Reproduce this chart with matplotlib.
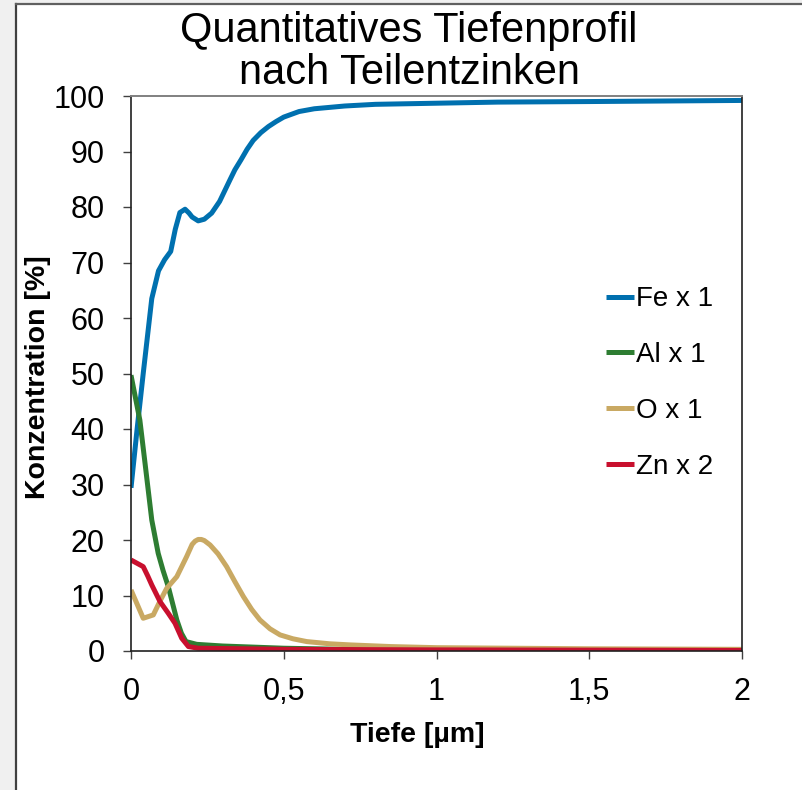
import matplotlib.pyplot as plt
from matplotlib.lines import Line2D
from matplotlib.patches import Rectangle

plt.rcParams['font.family'] = ['Liberation Sans', 'DejaVu Sans']

# --- Messwerte (Tiefe in µm, Konzentration in %) ---
fe_x = [0, 0.02, 0.04, 0.068, 0.09, 0.11, 0.13, 0.145, 0.16, 0.177, 0.19, 0.2, 0.22,
        0.24, 0.264, 0.29, 0.324, 0.34, 0.36, 0.38, 0.4, 0.425, 0.45, 0.475, 0.5,
        0.55, 0.6, 0.7, 0.8, 1.0, 1.2, 1.5, 2.0]
fe_y = [29.4, 40, 50, 63.5, 68.5, 70.5, 72, 76, 79, 79.6, 78.9, 78.2, 77.5,
        77.8, 78.9, 81, 84.9, 86.7, 88.5, 90.4, 92, 93.4, 94.5, 95.4, 96.2,
        97.2, 97.7, 98.2, 98.5, 98.7, 98.9, 99.0, 99.2]

al_x = [0, 0.015, 0.029, 0.046, 0.068, 0.089, 0.105, 0.122, 0.15, 0.165, 0.18,
        0.215, 0.3, 0.5, 0.7, 1.0, 1.5, 2.0]
al_y = [49.7, 45.5, 41.6, 33.8, 23.6, 17.6, 14.5, 11.6, 5.6, 3.2, 1.7,
        1.2, 0.9, 0.5, 0.3, 0.2, 0.1, 0.1]

o_x = [0, 0.04, 0.073, 0.095, 0.117, 0.15, 0.182, 0.2, 0.21, 0.22, 0.23, 0.24, 0.259,
       0.285, 0.313, 0.34, 0.368, 0.395, 0.422, 0.455, 0.488, 0.53, 0.575,
       0.65, 0.717, 0.85, 1.0, 1.5, 2.0]
o_y = [11, 5.9, 6.5, 9, 11.3, 13.4, 17, 19.2, 19.8, 20.1, 20.1, 19.9, 19.1,
       17.5, 15.2, 12.5, 9.8, 7.5, 5.6, 4.0, 2.9, 2.2, 1.7,
       1.3, 1.1, 0.8, 0.6, 0.4, 0.3]

zn_x = [0, 0.02, 0.04, 0.055, 0.068, 0.095, 0.122, 0.144, 0.166, 0.188, 0.22,
        0.5, 1.0, 2.0]
zn_y = [16.4, 15.8, 15.2, 13.5, 11.9, 8.9, 6.8, 5.0, 2.3, 0.8, 0.5,
        0.3, 0.2, 0.1]

serien = [
    ('Fe x 1', fe_x, fe_y, '#0070AF'),
    ('Al x 1', al_x, al_y, '#2E7D32'),
    ('O x 1', o_x, o_y, '#C9A963'),
    ('Zn x 2', zn_x, zn_y, '#C8102E'),
]

x_ticks = [0, 0.5, 1, 1.5, 2]
x_ticklabels = ['0', '0,5', '1', '1,5', '2']
y_ticks = list(range(0, 101, 10))

fig = plt.figure(figsize=(8.02, 7.9), dpi=100)
W, H = 802, 790

# Rahmen links/oben
fig.patches.append(Rectangle((0, 0), 15 / W, 1, transform=fig.transFigure,
                             facecolor='#f0f0f0', edgecolor='none', zorder=0))
fig.patches.append(Rectangle((0, 1 - 3 / H), 1, 3 / H, transform=fig.transFigure,
                             facecolor='#f0f0f0', edgecolor='none', zorder=0))
fig.lines.append(Line2D([15.5 / W, 15.5 / W], [0, 1 - 3.5 / H], transform=fig.transFigure,
                        color='#404040', lw=1.6))
fig.lines.append(Line2D([15.5 / W, 1], [1 - 3.5 / H, 1 - 3.5 / H], transform=fig.transFigure,
                        color='#606060', lw=1.6))

ax = fig.add_axes([131 / W, 1 - 651 / H, 611 / W, 555 / H])

for name, xs, ys, col in serien:
    ax.plot(xs, ys, color=col, lw=3.6, label=name,
            solid_joinstyle='round', solid_capstyle='butt')

ax.set_xlim(0, 2)
ax.set_ylim(0, 100)
ax.set_xticks(x_ticks)
ax.set_xticklabels(x_ticklabels)
ax.set_yticks(y_ticks)
ax.tick_params(axis='both', labelsize=22, length=6, width=1, color='#404040', pad=13)

for s in ['left', 'bottom', 'right']:
    ax.spines[s].set_color('#202020')
    ax.spines[s].set_linewidth(1.2)
ax.spines['top'].set_color('#808080')
ax.spines['top'].set_linewidth(1.4)
ax.yaxis.get_major_ticks()[-1].tick1line.set_color('#808080')

leg = ax.legend(loc='center left', bbox_to_anchor=(0.760, 0.483), frameon=False,
                fontsize=20, handlelength=1.0, handletextpad=0.05, labelspacing=1.07,
                borderaxespad=0)

fig.text(409 / W, 1 - 42 / H, 'Quantitatives Tiefenprofil', fontsize=30,
         ha='center', va='baseline')
fig.text(409 / W, 1 - 84 / H, 'nach Teilentzinken', fontsize=30,
         ha='center', va='baseline')
fig.text(417 / W, 1 - 735 / H, 'Tiefe [µm]', fontsize=20.5, fontweight='bold',
         ha='center', va='center')
fig.text(38 / W, 1 - 377 / H, 'Konzentration [%]', fontsize=20.5, fontweight='bold',
         ha='center', va='center', rotation=90)

fig.savefig('out.png', dpi=100)
